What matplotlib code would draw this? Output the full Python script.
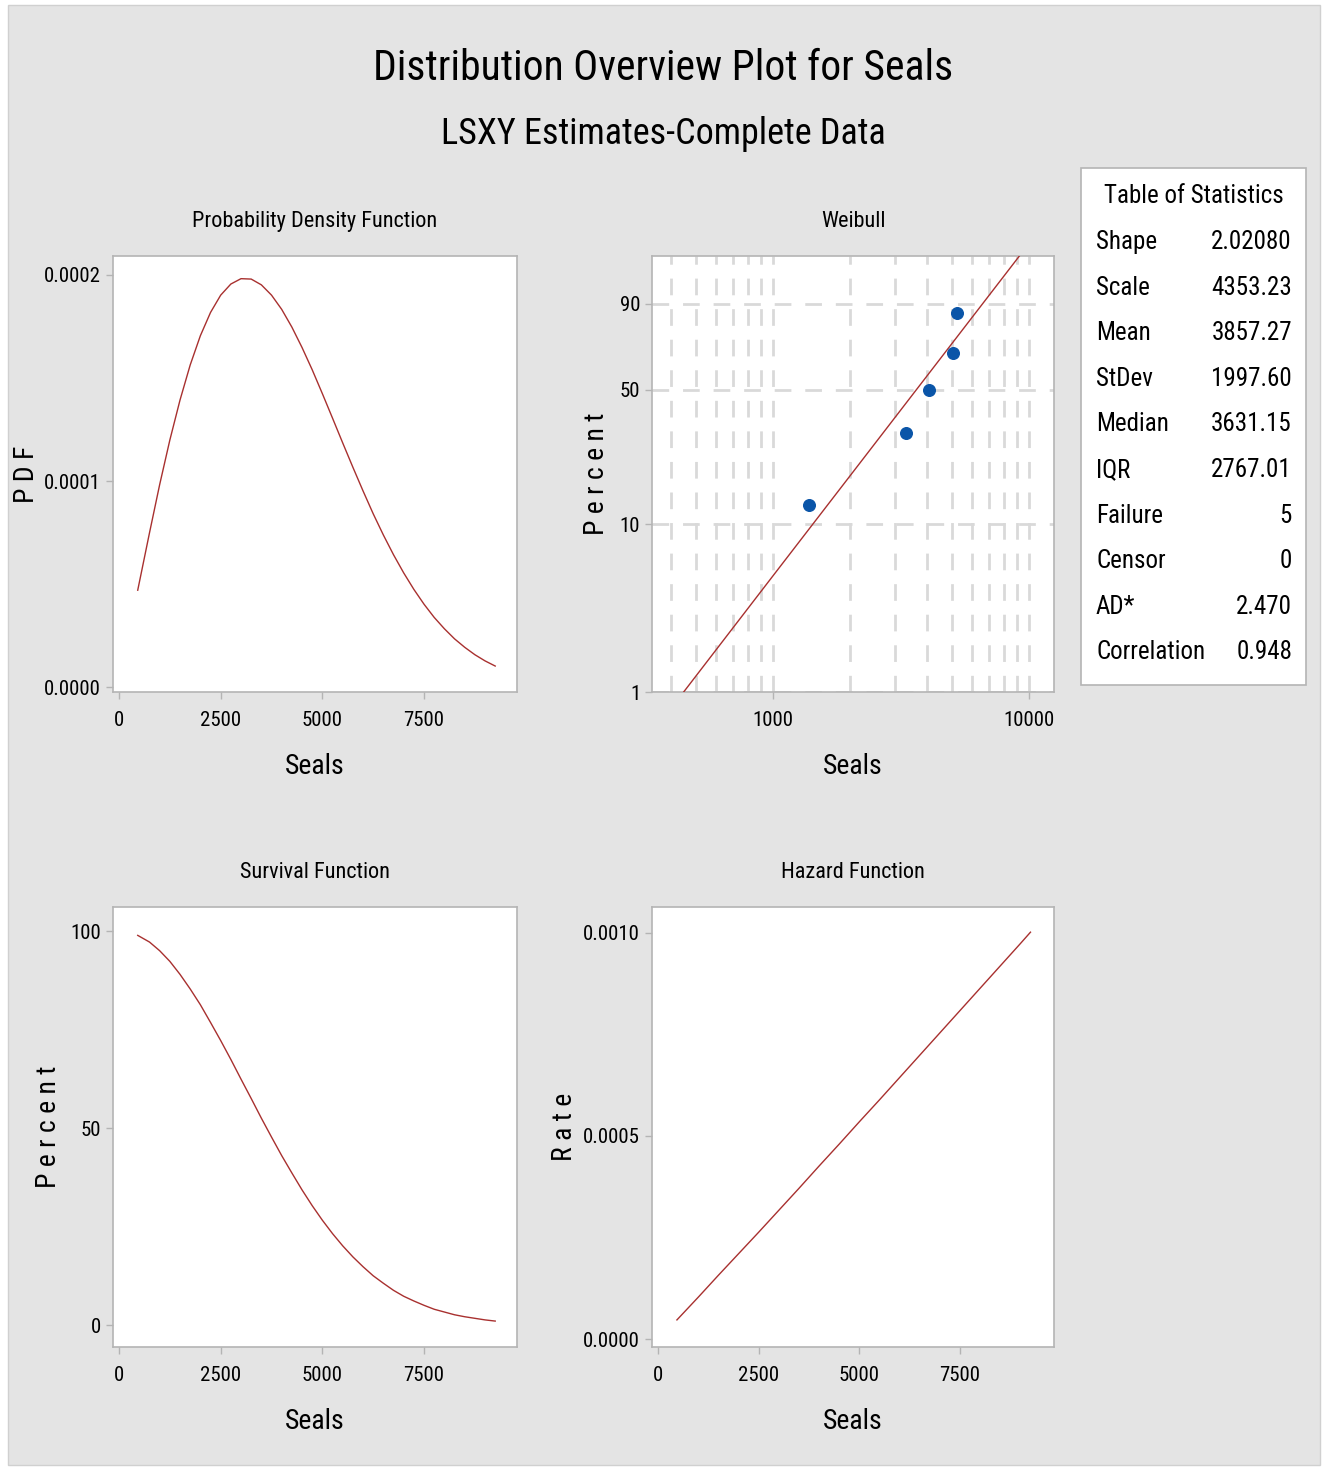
import matplotlib
matplotlib.use('Agg')
import matplotlib.pyplot as plt
from matplotlib.patches import Rectangle
import numpy as np

# fonts: try a condensed face first, fall back to normal ones
plt.rcParams['font.family'] = ['Roboto Condensed', 'Liberation Sans Narrow',
                               'Open Sans Condensed', 'Liberation Sans',
                               'DejaVu Sans']
plt.rcParams['font.stretch'] = 'condensed'

# ---- data ----
seals = [460, 750, 1000, 1250, 1500, 1750, 2000, 2250, 2500, 2750, 3000,
         3250, 3500, 3750, 4000, 4250, 4500, 4750, 5000, 5250, 5500, 5750,
         6000, 6250, 6500, 6750, 7000, 7250, 7500, 7750, 8000, 8250, 8500,
         8750, 9000, 9250]
pdf_vals = [4.70e-05, 7.49e-05, 9.83e-05, 1.199e-04, 1.393e-04, 1.563e-04,
            1.705e-04, 1.818e-04, 1.902e-04, 1.956e-04, 1.982e-04, 1.980e-04,
            1.952e-04, 1.902e-04, 1.833e-04, 1.747e-04, 1.648e-04, 1.540e-04,
            1.424e-04, 1.305e-04, 1.185e-04, 1.067e-04, 9.52e-05, 8.41e-05,
            7.38e-05, 6.42e-05, 5.54e-05, 4.74e-05, 4.02e-05, 3.38e-05,
            2.83e-05, 2.34e-05, 1.93e-05, 1.57e-05, 1.27e-05, 1.02e-05]
surv_pct = [98.9, 97.2, 95.0, 92.3, 89.0, 85.3, 81.3, 76.8, 72.2, 67.4,
            62.4, 57.5, 52.5, 47.7, 43.0, 38.6, 34.3, 30.3, 26.6, 23.2,
            20.1, 17.3, 14.8, 12.5, 10.6, 8.8, 7.3, 6.1, 5.0, 4.0, 3.3,
            2.6, 2.1, 1.7, 1.3, 1.0]

haz_seals = [470, 1000, 1500, 2000, 2500, 3000, 3500, 4000, 4500, 5000,
             5500, 6000, 6500, 7000, 7500, 8000, 8500, 9000, 9250]
hazard = [4.7e-05, 1.03e-04, 1.57e-04, 2.10e-04, 2.63e-04, 3.17e-04,
          3.71e-04, 4.26e-04, 4.80e-04, 5.35e-04, 5.89e-04, 6.44e-04,
          6.99e-04, 7.54e-04, 8.09e-04, 8.64e-04, 9.19e-04, 9.74e-04, 1.002e-03]

fail_times = [1380, 3300, 4080, 5060, 5220]
fail_pct = [12.96, 31.48, 50.0, 68.52, 87.04]

fit_x = [420, 1000, 2000, 3000, 4000, 5000, 6000, 8000, 9500]
fit_pct = [0.88, 4.99, 18.75, 37.58, 56.95, 73.37, 85.23, 96.73, 99.21]

stat_names = ['Shape', 'Scale', 'Mean', 'StDev', 'Median', 'IQR',
              'Failure', 'Censor', 'AD*', 'Correlation']
stat_values = ['2.02080', '4353.23', '3857.27', '1997.60', '3631.15',
               '2767.01', '5', '0', '2.470', '0.948']

line_col = '#a8302f'
dot_col = '#0a55a8'
bg = '#e4e4e4'
frame = '#b4b4b4'

W, H = 1325, 1467
fig = plt.figure(figsize=(W / 100, H / 100), dpi=100, facecolor='white')
fig.patches.append(Rectangle((8 / W, 2 / H), 1312 / W, 1460 / H,
                             transform=fig.transFigure, facecolor=bg,
                             edgecolor='#d0d0d0', lw=1, zorder=-10))


def box(l, t, r, b):
    return [l / W, 1 - b / H, (r - l) / W, (b - t) / H]


def style(ax, title, ylab, ylab_x):
    ax.set_facecolor('white')
    for s in ax.spines.values():
        s.set_color(frame)
        s.set_linewidth(1.2)
    ax.tick_params(colors=frame, labelcolor='black', labelsize=15,
                   length=5, width=1)
    ax.tick_params(axis='x', pad=9)
    ax.set_title(title, fontsize=16, pad=21)
    ax.set_xlabel('Seals', fontsize=20, labelpad=16)
    ax.set_ylabel(ylab, fontsize=20)
    ax.yaxis.set_label_coords(ylab_x, 0.5)


ax1 = fig.add_axes(box(113, 256, 517, 692))
ax2 = fig.add_axes(box(652, 256, 1054, 692))
ax3 = fig.add_axes(box(113, 907, 517, 1347))
ax4 = fig.add_axes(box(652, 907, 1054, 1347))

# PDF
style(ax1, 'Probability Density Function', 'P D F', -0.181)
ax1.plot(seals, pdf_vals, color=line_col, lw=1)
ax1.set_xlim(-148, 9786)
ax1.set_ylim(-0.0000024, 0.0002092)
ax1.set_xticks([0, 2500, 5000, 7500])
ax1.set_yticks([0, 0.0001, 0.0002])
ax1.set_yticklabels(['0.0000', '0.0001', '0.0002'])

# Weibull probability plot
style(ax2, 'Weibull', 'P e r c e n t', -0.104)


def fwd(p):
    p = np.clip(np.asarray(p, dtype=float), 1e-6, 100 - 1e-6) / 100.0
    return np.log(-np.log(1 - p))


def inv(y):
    return 100.0 * (1 - np.exp(-np.exp(y)))


ax2.set_xscale('log')
ax2.set_yscale('function', functions=(fwd, inv))
ax2.plot(fit_x, fit_pct, color=line_col, lw=1, zorder=3)
ax2.scatter(fail_times, fail_pct, s=70, color=dot_col, zorder=4)
ax2.set_xlim(336.6, 12524)
ax2.set_ylim(1, 98.9)
ax2.set_xticks([1000, 10000])
ax2.set_xticklabels(['1000', '10000'])
ax2.set_xticks([400, 500, 600, 700, 800, 900, 2000, 3000, 4000, 5000,
                6000, 7000, 8000, 9000], minor=True)
ax2.set_yticks([1, 10, 50, 90])
ax2.set_yticklabels(['1', '10', '50', '90'])
ax2.yaxis.set_minor_locator(matplotlib.ticker.NullLocator())
ax2.tick_params(which='minor', length=0)
ax2.grid(True, which='both', axis='x', color='#d9d9d9', ls=(0, (6, 5)), lw=2)
ax2.grid(True, which='major', axis='y', color='#d9d9d9', ls=(0, (6, 5)), lw=2)
ax2.set_axisbelow(True)

# Survival
style(ax3, 'Survival Function', 'P e r c e n t', -0.126)
ax3.plot(seals, surv_pct, color=line_col, lw=1)
ax3.set_xlim(-148, 9786)
ax3.set_ylim(-5.58, 106.1)
ax3.set_xticks([0, 2500, 5000, 7500])
ax3.set_yticks([0, 50, 100])

# Hazard
style(ax4, 'Hazard Function', 'R a t e', -0.184)
ax4.plot(haz_seals, hazard, color=line_col, lw=1)
ax4.set_xlim(-149, 9834)
ax4.set_ylim(-0.0000197, 0.001064)
ax4.set_xticks([0, 2500, 5000, 7500])
ax4.set_yticks([0, 0.0005, 0.001])
ax4.set_yticklabels(['0.0000', '0.0005', '0.0010'])

# titles
fig.text(663 / W, 1 - 68 / H, 'Distribution Overview Plot for Seals',
         ha='center', va='center', fontsize=30)
fig.text(663 / W, 1 - 134 / H, 'LSXY Estimates-Complete Data',
         ha='center', va='center', fontsize=26)

# table of statistics
fig.patches.append(Rectangle((1081 / W, 1 - 685 / H), 225 / W, 517 / H,
                             transform=fig.transFigure, facecolor='white',
                             edgecolor=frame, lw=1.2))
fig.text(1194 / W, 1 - 196 / H, 'Table of Statistics', ha='center',
         va='center', fontsize=18)
for i, (n, v) in enumerate(zip(stat_names, stat_values)):
    y = 1 - (242 + i * 45.6) / H
    fig.text(1096 / W, y, n, ha='left', va='center', fontsize=18)
    fig.text(1292 / W, y, v, ha='right', va='center', fontsize=18)

fig.savefig('out.png', dpi=100, facecolor=fig.get_facecolor())
